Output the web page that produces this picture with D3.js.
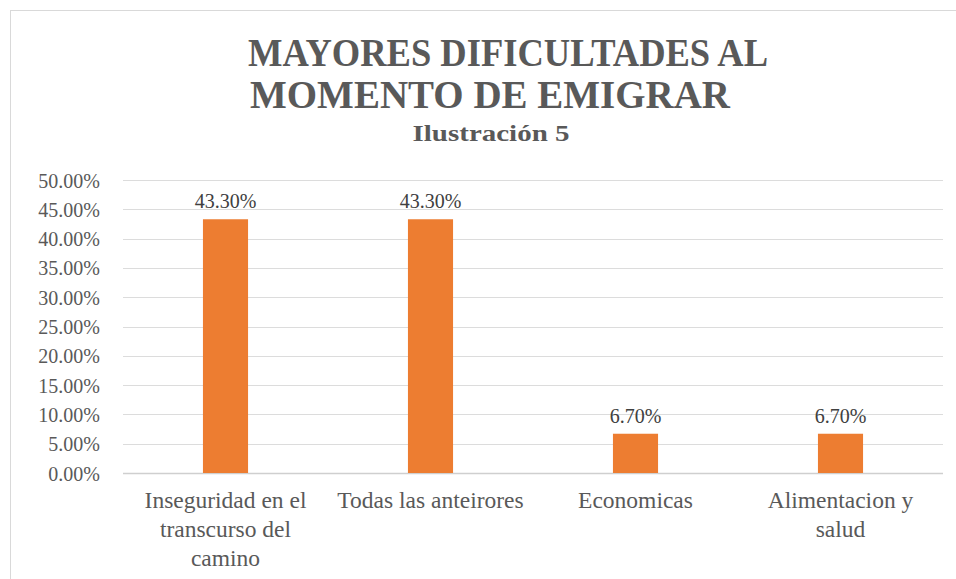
<!DOCTYPE html>
<html>
<head>
<meta charset="utf-8">
<script src="https://cdn.jsdelivr.net/npm/d3@7/dist/d3.min.js"></script>
<style>
  body { margin: 0; background: #fff; }
  svg text { font-family: "Liberation Serif", "DejaVu Serif", serif; }
</style>
</head>
<body>
<svg id="chart" width="956" height="579"></svg>
<script>
var categories = [
  ['Inseguridad en el', 'transcurso del', 'camino'],
  ['Todas las anteirores'],
  ['Economicas'],
  ['Alimentacion y', 'salud']
];
var values = [0.433, 0.433, 0.067, 0.067];
var yTicks = [0, 0.05, 0.10, 0.15, 0.20, 0.25, 0.30, 0.35, 0.40, 0.45, 0.50];

var svg = d3.select('#chart');

// chart frame
svg.append('rect')
  .attr('x', 10.5).attr('y', 10.5)
  .attr('width', 1000).attr('height', 1000)
  .style('fill', 'none')
  .attr('stroke', '#d9d9d9');

var plotL = 123, plotR = 943, plotT = 180, plotB = 473;

var x = d3.scaleBand()
  .domain(d3.range(values.length))
  .range([plotL, plotR])
  .paddingInner(0.78)
  .paddingOuter(0.39);

var y = d3.scaleLinear()
  .domain([0, 0.5])
  .range([plotB, plotT]);

// gridlines
svg.append('g').selectAll('line')
  .data(yTicks)
  .enter()
  .append('line')
  .attr('x1', plotL).attr('x2', plotR)
  .attr('y1', function(d){ return Math.round(y(d)) + 0.5; })
  .attr('y2', function(d){ return Math.round(y(d)) + 0.5; })
  .attr('stroke', function(d){ return d === 0 ? '#cfcfcf' : '#dcdcdc'; })
  .attr('stroke-width', function(d){ return d === 0 ? 1.5 : 1; });

// y axis labels
var yAxis = d3.axisLeft(y)
  .tickValues(yTicks)
  .tickFormat(d3.format('.2%'))
  .tickSize(0)
  .tickPadding(23);
var yg = svg.append('g')
  .attr('transform', 'translate(' + plotL + ',0)')
  .call(yAxis);
yg.select('.domain').remove();
yg.attr('font-family', null);
yg.selectAll('text')
  .attr('dy', '0.35em')
  .style('font-family', '"Liberation Serif", "DejaVu Serif", serif')
  .style('font-size', '20px')
  .style('fill', '#595959');

// bars
svg.append('g').selectAll('rect')
  .data(values)
  .enter()
  .append('rect')
  .attr('x', function(d, i){ return x(i); })
  .attr('y', function(d){ return y(d); })
  .attr('width', x.bandwidth())
  .attr('height', function(d){ return plotB - y(d); })
  .style('fill', '#ed7d31');

// data labels
svg.append('g').selectAll('text')
  .data(values)
  .enter()
  .append('text')
  .attr('x', function(d, i){ return x(i) + x.bandwidth() / 2; })
  .attr('y', function(d){ return y(d) - 11; })
  .attr('text-anchor', 'middle')
  .style('font-size', '20px')
  .style('fill', '#404040')
  .text(function(d){ return d3.format('.2%')(d); });

// category labels
var cat = svg.append('g').selectAll('text')
  .data(categories)
  .enter()
  .append('text')
  .attr('text-anchor', 'middle')
  .style('font-size', '23.5px')
  .style('fill', '#595959');
cat.each(function(lines, i){
  var t = d3.select(this);
  lines.forEach(function(l, j){
    t.append('tspan')
      .attr('x', x(i) + x.bandwidth() / 2)
      .attr('y', 508 + j * 29)
      .text(l);
  });
});

// title
svg.append('text')
  .attr('x', 508).attr('y', 66)
  .attr('text-anchor', 'middle')
  .attr('textLength', 520)
  .attr('lengthAdjust', 'spacingAndGlyphs')
  .style('font-size', '41px')
  .style('font-weight', 'bold')
  .style('fill', '#595959')
  .text('MAYORES DIFICULTADES AL');
svg.append('text')
  .attr('x', 490).attr('y', 108)
  .attr('text-anchor', 'middle')
  .attr('textLength', 480)
  .attr('lengthAdjust', 'spacingAndGlyphs')
  .style('font-size', '41px')
  .style('font-weight', 'bold')
  .style('fill', '#595959')
  .text('MOMENTO DE EMIGRAR');
svg.append('text')
  .attr('x', 491).attr('y', 141)
  .attr('text-anchor', 'middle')
  .attr('textLength', 157)
  .attr('lengthAdjust', 'spacingAndGlyphs')
  .style('font-size', '23px')
  .style('font-weight', 'bold')
  .style('fill', '#595959')
  .text('Ilustración 5');
</script>
</body>
</html>
